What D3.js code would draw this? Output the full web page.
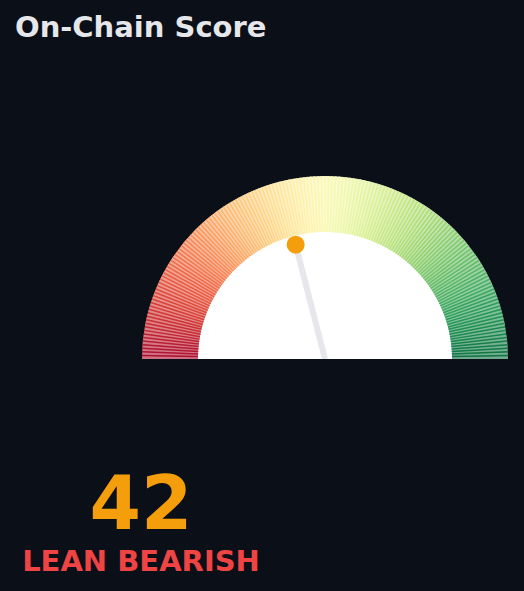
<!DOCTYPE html>
<html>
<head>
<meta charset="utf-8">
<script src="https://cdn.jsdelivr.net/npm/d3@7"></script>
<style>
  html, body { margin: 0; padding: 0; background: #0b0f18; }
  svg { display: block; }
</style>
</head>
<body>
<svg id="chart" width="524" height="591"></svg>
<script>
const title = "On-Chain Score";
const scoreValue = [42];
const scoreLabel = ["LEAN BEARISH"];
const scoreDomain = [0, 100];
const segmentCount = 160;

const width = 524, height = 591;
const svg = d3.select('#chart');

svg.append("text")
  .attr("x", 15).attr("y", 37)
  .attr("fill", "#e5e7eb")
  .style("font", "bold 29px 'DejaVu Sans'")
  .text(title)

let cx = 325, cy = 359;
let rOuter = 183, rInner = 127;

let angle = d3.scaleLinear()
  .domain(scoreDomain)
  .range([-Math.PI / 2, Math.PI / 2])

let segAngle = d3.scaleLinear()
  .domain([0, segmentCount])
  .range([-Math.PI / 2, Math.PI / 2])

let color = i => d3.interpolateRdYlGn(i / segmentCount)

let g = svg.append("g").attr("transform", "translate(" + cx + "," + cy + ")")

// white backing so the translucent wedges read pale
g.append("path")
  .attr("fill", "#fff")
  .attr("d", d3.arc()({innerRadius: 0, outerRadius: rOuter, startAngle: -Math.PI / 2, endAngle: Math.PI / 2}))

let arc = d3.arc().innerRadius(rInner).outerRadius(rOuter)

g.selectAll("path.seg")
  .data(d3.range(segmentCount))
  .join("path")
  .attr("class", "seg")
  .attr("d", i => arc({startAngle: segAngle(i), endAngle: segAngle(i + 1) + 0.002}))
  .attr("fill", i => color(i + 0.5))
  .attr("fill-opacity", 0.56)

// darker hairlines between wedges
g.selectAll("line.tick")
  .data(d3.range(1, segmentCount))
  .join("line")
  .attr("class", "tick")
  .attr("x1", i => Math.sin(segAngle(i)) * rInner)
  .attr("y1", i => -Math.cos(segAngle(i)) * rInner)
  .attr("x2", i => Math.sin(segAngle(i)) * rOuter)
  .attr("y2", i => -Math.cos(segAngle(i)) * rOuter)
  .attr("stroke", i => color(i))
  .attr("stroke-opacity", 0.85)
  .attr("stroke-width", 1.5)

// needle
let a = angle(scoreValue[0])
let needleLen = 118
let nx = Math.sin(a) * needleLen, ny = -Math.cos(a) * needleLen

g.append("line")
  .attr("x1", 0).attr("y1", 0)
  .attr("x2", nx).attr("y2", ny)
  .attr("stroke", "#e5e7eb")
  .attr("stroke-width", 6)

g.append("circle")
  .attr("cx", nx).attr("cy", ny)
  .attr("r", 9)
  .attr("fill", "#f59e0b")

// clip anything below baseline
svg.append("rect")
  .attr("x", 0).attr("y", cy)
  .attr("width", width).attr("height", 3)
  .attr("fill", "#0b0f18")

svg.append("text")
  .attr("x", 141).attr("y", 529)
  .attr("text-anchor", "middle")
  .attr("fill", "#f59e0b")
  .style("font", "bold 74px 'DejaVu Sans'")
  .text(scoreValue[0])

svg.append("text")
  .attr("x", 141).attr("y", 571)
  .attr("text-anchor", "middle")
  .attr("fill", "#ef4444")
  .style("font", "bold 29px 'DejaVu Sans'")
  .text(scoreLabel[0])
</script>
</body>
</html>
